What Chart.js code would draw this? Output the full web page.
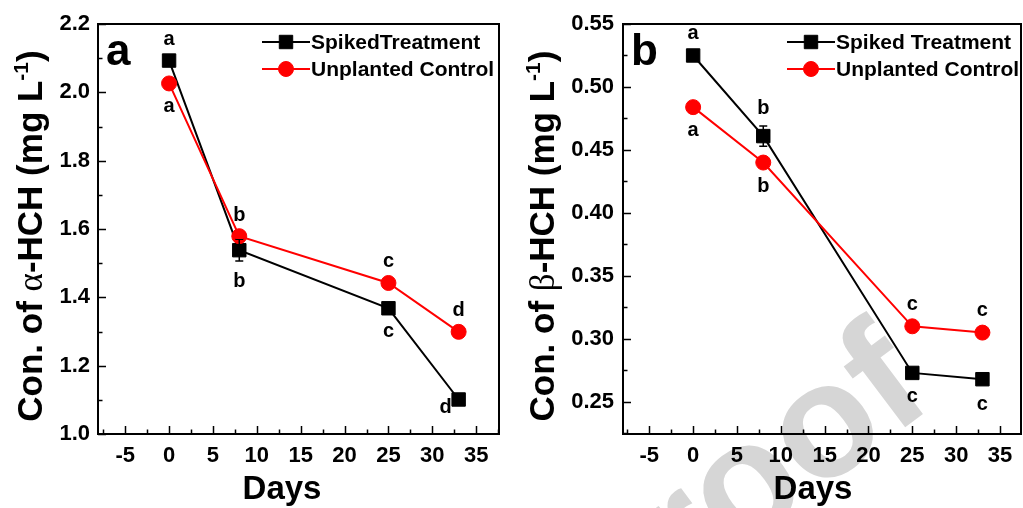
<!DOCTYPE html>
<html>
<head>
<meta charset="utf-8">
<script src="https://cdn.jsdelivr.net/npm/chart.js@4.4.0/dist/chart.umd.min.js"></script>
<style>
html, body { margin: 0; background: #fff; overflow: hidden; }
#wrap { position: relative; width: 1023px; height: 508px; overflow: hidden; }
canvas { position: absolute; top: 0; }
</style>
</head>
<body>
<div id="wrap">
<canvas id="chartA" width="512" height="508" style="left:0"></canvas>
<canvas id="chartB" width="522" height="508" style="left:512px"></canvas>
</div>
<script>
// sampling days and axis ticks
var days = [0, 8, 25, 33];
var xTicks = [-5, 0, 5, 10, 15, 20, 25, 30, 35];

// panel a: alpha-HCH
var spikedA = [2.093, 1.538, 1.368, 1.101];
var spikedAErr = [0.006, 0.032, 0.008, 0.008];
var controlA = [2.026, 1.579, 1.442, 1.299];
var controlAErr = [0.004, 0.006, 0.005, 0.004];
var yTicksA = [1.0, 1.2, 1.4, 1.6, 1.8, 2.0, 2.2];
var lettersSpikedA = ['a', 'b', 'c', 'd'];
var lettersControlA = ['a', 'b', 'c', 'd'];

// panel b: beta-HCH
var spikedB = [0.525, 0.461, 0.273, 0.268];
var spikedBErr = [0.003, 0.008, 0.003, 0.004];
var controlB = [0.484, 0.440, 0.310, 0.305];
var controlBErr = [0.003, 0.003, 0.003, 0.003];
var yTicksB = [0.25, 0.30, 0.35, 0.40, 0.45, 0.50, 0.55];
var lettersSpikedB = ['a', 'b', 'c', 'c'];
var lettersControlB = ['a', 'b', 'c', 'c'];

var FONT = '"Liberation Sans", Arial, sans-serif';

function pts(vals) {
    return days.map(function(d, i) { return { x: d, y: vals[i] }; });
}

var decor = {
    id: 'decor',
    beforeDraw: function(chart, args, o) {
        if (!o.watermark) return;
        var ctx = chart.ctx;
        ctx.save();
        ctx.translate(o.watermark.x, o.watermark.y);
        ctx.rotate(-37 * Math.PI / 180);
        ctx.font = 'bold 162px ' + FONT;
        ctx.fillStyle = '#d6d6d6';
        ctx.textAlign = 'right';
        ctx.textBaseline = 'alphabetic';
        ctx.fillText('Proof', 0, 0);
        ctx.restore();
    },
    beforeDatasetsDraw: function(chart, args, o) {
        var ctx = chart.ctx, a = chart.chartArea;
        var xs = chart.scales.x, ys = chart.scales.y;
        ctx.save();
        ctx.strokeStyle = '#000';
        ctx.lineWidth = 2;
        ctx.strokeRect(a.left, a.top, a.right - a.left, a.bottom - a.top);
        ctx.lineWidth = 1.5;
        ctx.beginPath();
        // inward ticks on bottom axis
        var xv = xs.ticks.map(function(t) { return t.value; });
        xv.forEach(function(v) {
            var p = Math.round(xs.getPixelForValue(v)) + 0.5;
            ctx.moveTo(p, a.bottom); ctx.lineTo(p, a.bottom - 8);
        });
        var step = xv[1] - xv[0];
        for (var m = xv[0] - step / 2; m < xs.max; m += step) {
            if (m <= xs.min) continue;
            var p = Math.round(xs.getPixelForValue(m)) + 0.5;
            ctx.moveTo(p, a.bottom); ctx.lineTo(p, a.bottom - 4.5);
        }
        // inward ticks on left axis
        var yv = ys.ticks.map(function(t) { return t.value; });
        yv.forEach(function(v) {
            var p = Math.round(ys.getPixelForValue(v)) + 0.5;
            ctx.moveTo(a.left, p); ctx.lineTo(a.left + 8, p);
        });
        var ystep = yv[1] - yv[0];
        for (var n = yv[0] - ystep / 2; n < ys.max; n += ystep) {
            if (n <= ys.min + 1e-9) continue;
            var q = Math.round(ys.getPixelForValue(n)) + 0.5;
            ctx.moveTo(a.left, q); ctx.lineTo(a.left + 4.5, q);
        }
        ctx.stroke();
        ctx.restore();
    },
    afterDatasetsDraw: function(chart, args, o) {
        var ctx = chart.ctx, a = chart.chartArea, ys = chart.scales.y;
        ctx.save();
        chart.data.datasets.forEach(function(ds, di) {
            var meta = chart.getDatasetMeta(di);
            meta.data.forEach(function(el, i) {
                var v = ds.data[i].y, e = ds.err[i];
                var top = ys.getPixelForValue(v + e), bot = ys.getPixelForValue(v - e);
                var ep = (bot - top) / 2;
                // error bar
                ctx.strokeStyle = ds.borderColor;
                ctx.lineWidth = 1.5;
                ctx.beginPath();
                ctx.moveTo(el.x, top); ctx.lineTo(el.x, bot);
                ctx.moveTo(el.x - 4, top); ctx.lineTo(el.x + 4, top);
                ctx.moveTo(el.x - 4, bot); ctx.lineTo(el.x + 4, bot);
                ctx.stroke();
                // significance letter
                var side = ds.letterSide[i];
                var off = Math.max(21, ep + 18);
                var lx = el.x, ly = el.y;
                if (side === 'up') ly -= off;
                else if (side === 'down') ly += off + 2;
                else { lx -= 13; ly += 8; }
                ctx.fillStyle = '#000';
                ctx.font = 'bold 20px ' + FONT;
                ctx.textAlign = 'center';
                ctx.textBaseline = 'middle';
                ctx.fillText(ds.letters[i], lx, ly);
            });
        });

        // legend inside plot
        var lg = o.legend;
        chart.data.datasets.forEach(function(ds, di) {
            var y = lg.y + di * 27;
            ctx.strokeStyle = ds.borderColor;
            ctx.lineWidth = 2;
            ctx.beginPath();
            ctx.moveTo(lg.x, y); ctx.lineTo(lg.x + 48, y);
            ctx.stroke();
            ctx.fillStyle = ds.backgroundColor;
            ctx.lineWidth = 1;
            Chart.helpers.drawPoint(ctx, { pointStyle: ds.pointStyle, radius: ds.pointRadius, borderWidth: 1, rotation: 0 }, lg.x + 24, y);
            ctx.fillStyle = '#000';
            ctx.font = 'bold 21px ' + FONT;
            ctx.textAlign = 'left';
            ctx.textBaseline = 'middle';
            ctx.fillText(ds.label, lg.x + 49, y + 1);
        });

        // panel letter
        ctx.fillStyle = '#000';
        ctx.font = 'bold 44px ' + FONT;
        ctx.textAlign = 'left';
        ctx.textBaseline = 'alphabetic';
        ctx.fillText(o.panel, a.left + 8, 65);

        // x title
        ctx.font = 'bold 33px ' + FONT;
        ctx.textAlign = 'center';
        ctx.fillText(o.xTitle.text, o.xTitle.x, 499);

        // rotated y title with superscript
        var parts = o.yTitle;
        var fonts = { b: 'bold 35px ' + FONT, g: '35px "Liberation Serif", serif', s: 'bold 21px ' + FONT };
        var total = 0;
        ctx.textAlign = 'left';
        parts.forEach(function(p) { ctx.font = fonts[p[1]]; total += ctx.measureText(p[0]).width; });
        ctx.translate(29, 236);
        ctx.rotate(-Math.PI / 2);
        var x = -total / 2;
        parts.forEach(function(p) {
            ctx.font = fonts[p[1]];
            ctx.fillText(p[0], x, p[1] === 's' ? -1 : 13);
            x += ctx.measureText(p[0]).width;
        });
        ctx.restore();
    }
};

function makeChart(id, cfg) {
    var ctx = document.getElementById(id).getContext('2d');
    return new Chart(ctx, {
        type: 'line',
        data: {
            datasets: [{
                label: cfg.spikedLabel,
                data: pts(cfg.spiked),
                err: cfg.spikedErr,
                letters: cfg.spikedLetters,
                letterSide: cfg.spikedSide,
                borderColor: '#000000',
                backgroundColor: '#000000',
                borderWidth: 2,
                pointStyle: 'rect',
                pointRadius: 9.5,
                pointBorderWidth: 1,
                order: 1
            }, {
                label: 'Unplanted Control',
                data: pts(cfg.control),
                err: cfg.controlErr,
                letters: cfg.controlLetters,
                letterSide: cfg.controlSide,
                borderColor: '#ff0000',
                backgroundColor: '#ff0000',
                borderWidth: 2,
                pointStyle: 'circle',
                pointRadius: 7.5,
                pointBorderWidth: 1,
                order: 0
            }]
        },
        options: {
            responsive: false,
            animation: false,
            layout: { padding: { left: 0, top: 24, right: cfg.padRight, bottom: 0 } },
            plugins: {
                legend: { display: false },
                tooltip: { enabled: false },
                decor: { panel: cfg.panel, legend: cfg.legend, yTitle: cfg.yTitle, xTitle: cfg.xTitle, watermark: cfg.watermark }
            },
            scales: {
                x: {
                    type: 'linear',
                    min: cfg.xMin, max: cfg.xMax,
                    afterBuildTicks: function(s) { s.ticks = xTicks.map(function(v) { return { value: v }; }); },
                    afterFit: function(s) { s.height = 74; },
                    grid: { display: false, drawTicks: false },
                    border: { display: false },
                    ticks: { color: '#000', padding: 9, font: { family: FONT, size: 22, weight: 'bold' } }
                },
                y: {
                    type: 'linear',
                    min: cfg.yMin, max: cfg.yMax,
                    afterBuildTicks: function(s) { s.ticks = cfg.yTicks.map(function(v) { return { value: v }; }); },
                    afterFit: function(s) { s.width = cfg.yWidth; },
                    grid: { display: false, drawTicks: false },
                    border: { display: false },
                    ticks: {
                        color: '#000', padding: cfg.yPad, font: { family: FONT, size: 22, weight: 'bold' },
                        callback: function(v) { return Number(v).toFixed(cfg.dec); }
                    }
                }
            }
        },
        plugins: [decor]
    });
}

makeChart('chartA', {
    panel: 'a', spikedLabel: 'SpikedTreatment',
    spiked: spikedA, spikedErr: spikedAErr, spikedLetters: lettersSpikedA, spikedSide: ['up', 'down', 'down', 'left'],
    control: controlA, controlErr: controlAErr, controlLetters: lettersControlA, controlSide: ['down', 'up', 'up', 'up'],
    yTicks: yTicksA, yMin: 1.0, yMax: 2.2, dec: 1, yWidth: 98, yPad: 8,
    xMin: -8.1, xMax: 37.6, padRight: 13,
    legend: { x: 262, y: 42 },
    xTitle: { text: 'Days', x: 282 },
    yTitle: [['Con. of ', 'b'], ['\u03b1', 'g'], ['-HCH (mg L', 'b'], ['-1', 's'], [')', 'b']]
});

makeChart('chartB', {
    panel: 'b', spikedLabel: 'Spiked Treatment',
    spiked: spikedB, spikedErr: spikedBErr, spikedLetters: lettersSpikedB, spikedSide: ['up', 'up', 'down', 'down'],
    control: controlB, controlErr: controlBErr, controlLetters: lettersControlB, controlSide: ['down', 'down', 'up', 'up'],
    yTicks: yTicksB, yMin: 0.2245, yMax: 0.55, dec: 2, yWidth: 111, yPad: 9,
    xMin: -8, xMax: 37.4, padRight: 13,
    legend: { x: 275, y: 42 },
    xTitle: { text: 'Days', x: 301 },
    yTitle: [['Con. of ', 'b'], ['\u03b2', 'g'], ['-HCH (mg L', 'b'], ['-1', 's'], [')', 'b']],
    watermark: { x: 424, y: 404 }
});
</script>
</body>
</html>
